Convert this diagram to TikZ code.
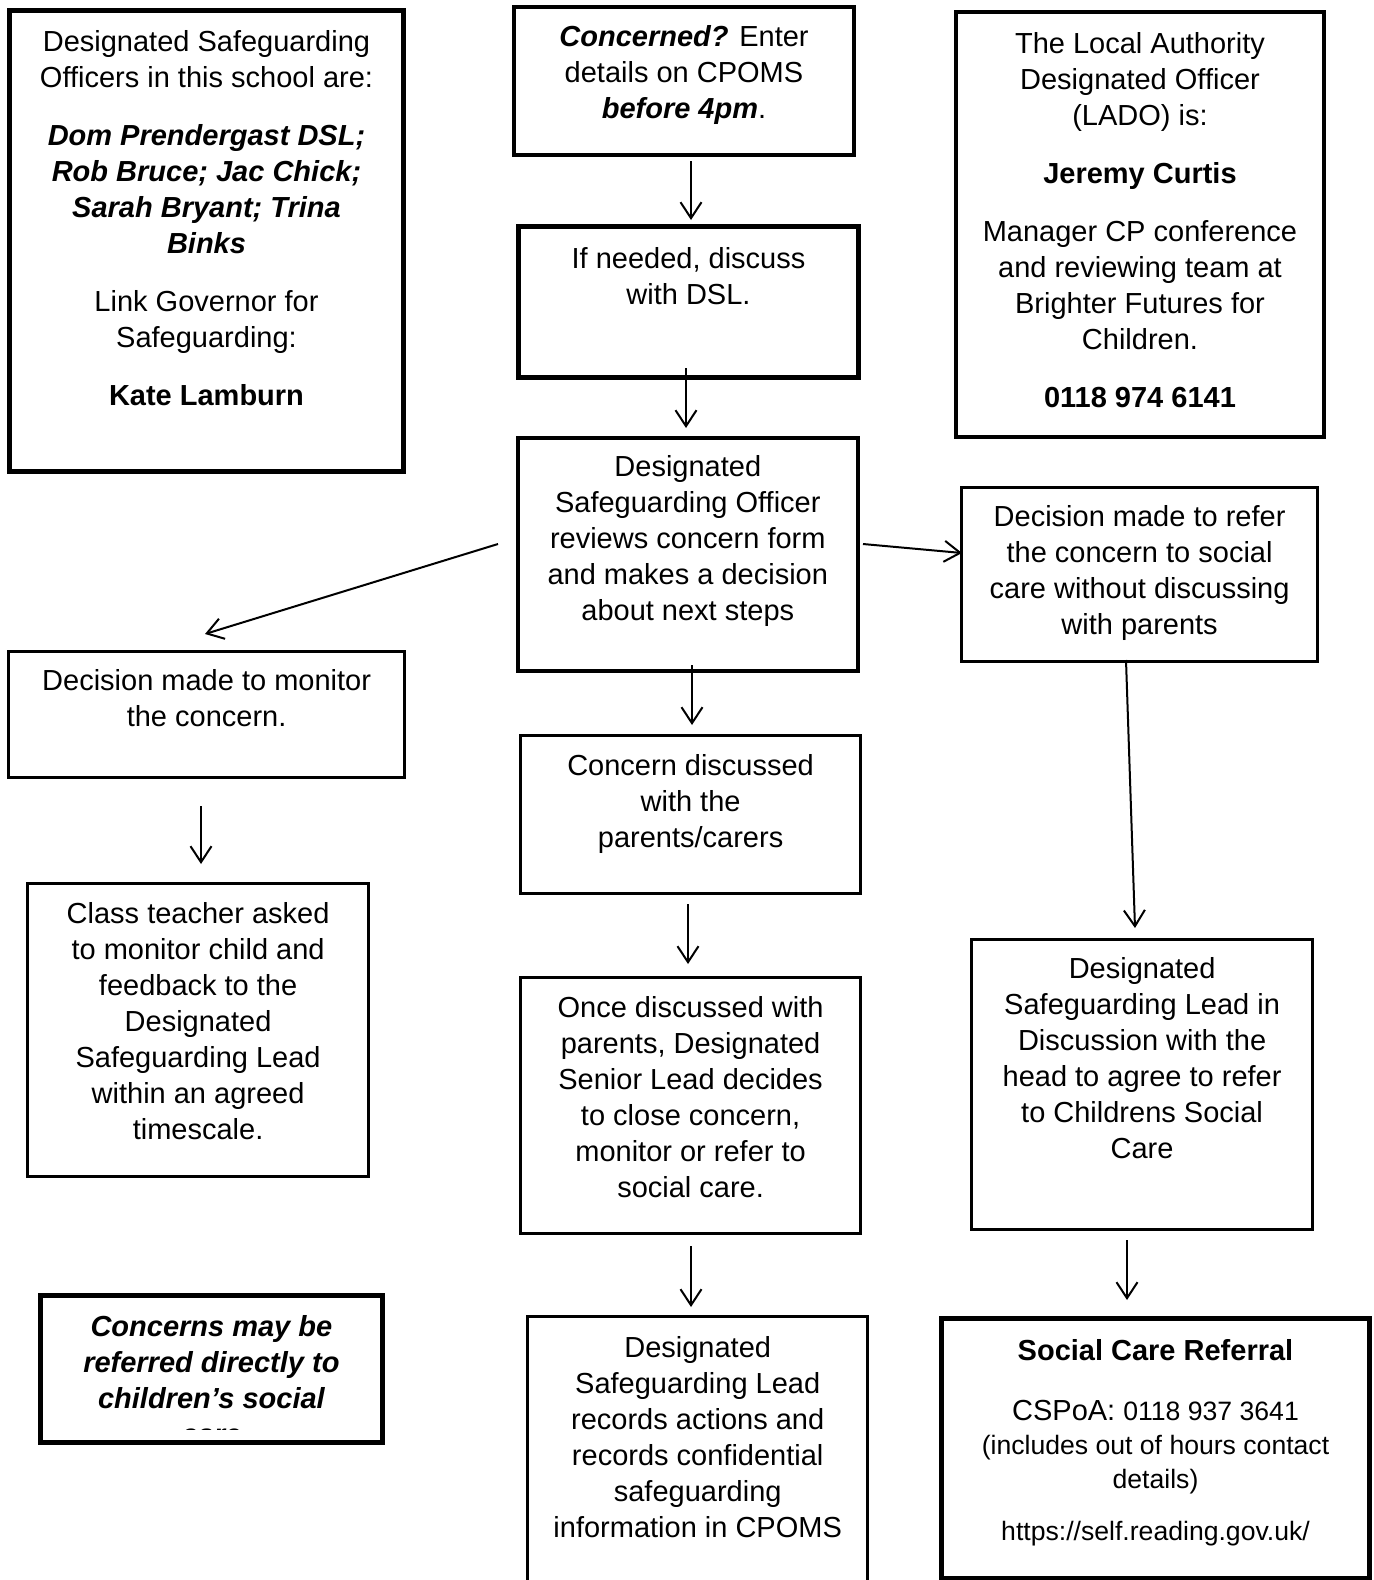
\documentclass[tikz,border=0pt]{standalone}
\usepackage{fontspec}
\setmainfont{Liberation Sans}
\usetikzlibrary{arrows.meta}
\newcommand\boxtxt[4][20pt]{\begin{minipage}[t][#3][t]{#2}\centering\rule{0pt}{#1}#4\end{minipage}}
\newcommand\pgap[1][11pt]{\par\vspace{#1}}
\newcommand\smallfs{\fontsize{13.3}{17}\selectfont}
\begin{document}
\begin{tikzpicture}[x=0.5pt,y=-0.5pt,
  box/.style={draw, inner sep=0pt, anchor=north west, font=\fontsize{14.5}{18}\selectfont},
  lwthick/.style={line width=2.5pt},
  lwmed/.style={line width=2pt},
  lwthin/.style={line width=1.6pt},
  arr/.style={line width=1pt, -{Straight Barb[length=8pt,width=10.5pt]}}]
\useasboundingbox (0,0) rectangle (1373,1580);
\fill[white] (0,0) rectangle (1373,1580);

% boxes
\node[box, lwthick] (A) at (7,8) {\boxtxt[20.5pt]{197pt}{230.5pt}{Designated Safeguarding\\Officers in this school are:\pgap{\bfseries\itshape Dom Prendergast DSL;\\Rob Bruce; Jac Chick;\\Sarah Bryant; Trina\\Binks}\pgap Link Governor for\\Safeguarding:\pgap\textbf{Kate Lamburn}}};

\node[box, lwmed] (B) at (512,5) {\boxtxt[19.5pt]{170pt}{74pt}{\textbf{\textit{Concerned?}} Enter\\details on CPOMS\\\textbf{\textit{before 4pm}}.}};

\node[box, lwmed] (C) at (954,10) {\boxtxt[20.5pt]{184pt}{212.5pt}{The Local Authority\\Designated Officer\\(LADO) is:\pgap\textbf{Jeremy Curtis}\pgap Manager CP conference\\and reviewing team at\\Brighter Futures for\\Children.\pgap\textbf{0118 974 6141}}};

\node[box, lwthick] (D) at (516,224) {\boxtxt[21pt]{170pt}{75.5pt}{If needed, discuss\\with DSL.}};

\node[box, line width=1.8pt] (E) at (516,436) {\boxtxt[19.5pt]{170pt}{116.5pt}{Designated\\Safeguarding Officer\\reviews concern form\\and makes a decision\\about next steps}};

\node[box, lwthin] (F) at (960,486) {\boxtxt[19.5pt]{178pt}{87pt}{Decision made to refer\\the concern to social\\care without discussing\\with parents}};

\node[box, lwthin] (G) at (7,650) {\boxtxt[19.5pt]{198pt}{63pt}{Decision made to monitor\\the concern.}};

\node[box, lwthin] (H) at (519,734) {\boxtxt[20pt]{170pt}{79pt}{Concern discussed\\with the\\parents/carers}};

\node[box, lwthin] (I) at (26,882) {\boxtxt[20pt]{170.5pt}{146.5pt}{Class teacher asked\\to monitor child and\\feedback to the\\Designated\\Safeguarding Lead\\within an agreed\\timescale.}};

\node[box, lwthin] (J) at (519,976) {\boxtxt[20pt]{170pt}{128pt}{Once discussed with\\parents, Designated\\Senior Lead decides\\to close concern,\\monitor or refer to\\social care.}};

\node[box, lwthin] (K) at (970,938) {\boxtxt[19.5pt]{170.5pt}{145pt}{Designated\\Safeguarding Lead in\\Discussion with the\\head to agree to refer\\to Childrens Social\\Care}};

\begin{scope}
  \clip (43,1298) rectangle (379,1429);
  \node[box, draw=none] (L) at (40,1295) {\boxtxt[20.5pt]{171pt}{73.5pt}{\bfseries\itshape Concerns may be\\referred directly to\\children’s social\\care}};
\end{scope}
\draw[lwthick] (L.north west) rectangle (L.south east);

\node[box, line width=1.7pt] (M) at (526,1315) {\boxtxt[20.5pt]{170pt}{145pt}{Designated\\Safeguarding Lead\\records actions and\\records confidential\\safeguarding\\information in CPOMS}};

\node[box, lwthick] (N) at (939,1316) {\boxtxt[21pt]{214pt}{130pt}{\textbf{Social Care Referral}\pgap[13pt]CSPoA: {\smallfs 0118 937 3641\\(includes out of hours contact\\details)\par}\pgap[9pt]{\smallfs https://self.reading.gov.uk/\par}}};

% arrow end points (arrows float between boxes)
\coordinate (bd1) at (691,161);  \coordinate (bd2) at (691,220);
\coordinate (de1) at (686,368);  \coordinate (de2) at (686,428);
\coordinate (eg1) at (498,544);  \coordinate (eg2) at (205,634);
\coordinate (ef1) at (863,544);  \coordinate (ef2) at (962,553);
\coordinate (eh1) at (692,665);  \coordinate (eh2) at (692,725);
\coordinate (gi1) at (201,806);  \coordinate (gi2) at (201,864);
\coordinate (hj1) at (688,904);  \coordinate (hj2) at (688,964);
\coordinate (jm1) at (691,1246); \coordinate (jm2) at (691,1307);
\coordinate (fk1) at (1126,660); \coordinate (fk2) at (1135,928);
\coordinate (kn1) at (1127,1240);\coordinate (kn2) at (1127,1300);

\draw[arr] (bd1) -- (bd2);
\draw[arr] (de1) -- (de2);
\draw[arr] (eg1) -- (eg2);
\draw[arr] (ef1) -- (ef2);
\draw[arr] (eh1) -- (eh2);
\draw[arr] (gi1) -- (gi2);
\draw[arr] (hj1) -- (hj2);
\draw[arr] (jm1) -- (jm2);
\draw[arr] (fk1) -- (fk2);
\draw[arr] (kn1) -- (kn2);
\end{tikzpicture}
\end{document}
